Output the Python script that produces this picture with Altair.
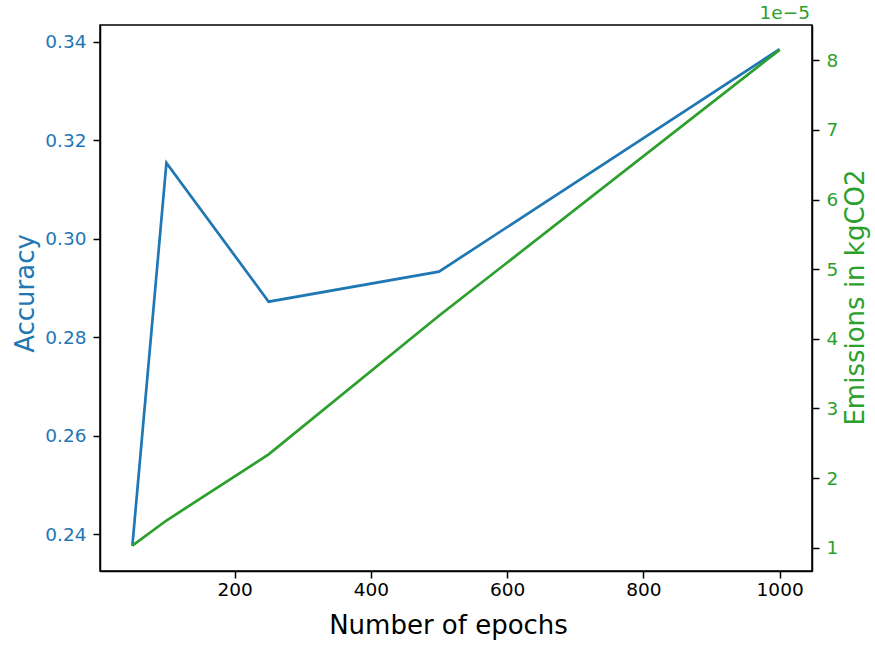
import altair as alt
import pandas as pd

# Training runs: epochs vs. accuracy and CO2 emissions
epochs = [50, 100, 250, 500, 1000]
accuracy = [0.2376, 0.3154, 0.2872, 0.2933, 0.3385]
emissions_kg = [1.03e-5, 1.39e-5, 2.34e-5, 4.33e-5, 8.15e-5]

x_ticks = [200, 400, 600, 800, 1000]
acc_ticks = [0.24, 0.26, 0.28, 0.30, 0.32, 0.34]
em_ticks = [1e-5, 2e-5, 3e-5, 4e-5, 5e-5, 6e-5, 7e-5, 8e-5]

df = pd.DataFrame({"epochs": epochs, "accuracy": accuracy, "emissions": emissions_kg})

BLUE = "#1f77b4"
GREEN = "#2ca02c"
FONT = "DejaVu Sans"

x_enc = alt.X(
    "epochs:Q",
    scale=alt.Scale(domain=[2.5, 1047.5], nice=False, zero=False),
    axis=alt.Axis(
        values=x_ticks, format="d", title="Number of epochs",
        titleX=348, titleY=62, titleBaseline="alphabetic", titleAlign="center",
        labelColor="black",
    ),
)

acc_line = alt.Chart(df).mark_line(color=BLUE, strokeWidth=2.7).encode(
    x=x_enc,
    y=alt.Y(
        "accuracy:Q",
        scale=alt.Scale(domain=[0.2325, 0.3434], nice=False, zero=False),
        axis=alt.Axis(
            orient="left", values=acc_ticks, format=".2f", title="Accuracy",
            labelColor=BLUE, titleColor=BLUE, labelPadding=7,
            titleAngle=270, titleX=-67, titleY=268,
            titleAlign="center", titleBaseline="alphabetic",
        ),
    ),
)

em_line = alt.Chart(df).mark_line(color=GREEN, strokeWidth=2.7).encode(
    x=x_enc,
    y=alt.Y(
        "emissions:Q",
        scale=alt.Scale(domain=[0.665e-5, 8.507e-5], nice=False, zero=False),
        axis=alt.Axis(
            orient="right", values=em_ticks, labelExpr="format(datum.value * 1e5, '.0f')",
            title="Emissions in kgCO2",
            labelColor=GREEN, titleColor=GREEN, labelPadding=7,
            titleAngle=270, titleX=51, titleY=272,
            titleAlign="center", titleBaseline="alphabetic",
        ),
    ),
)

# Scale multiplier shown above the right axis
offset_text = alt.Chart(pd.DataFrame({"t": ["1e\u22125"]})).mark_text(
    color=GREEN, font=FONT, fontSize=18.5, align="right", baseline="alphabetic",
).encode(
    text="t:N",
    x=alt.value(710),
    y=alt.value(-6),
)

chart = (
    alt.layer(acc_line, em_line, offset_text)
    .resolve_scale(y="independent")
    .properties(
        width=712,
        height=546,
        autosize=alt.AutoSizeParams(type="none"),
        padding={"left": 100, "top": 25, "right": 63, "bottom": 75},
        background="white",
    )
    .configure_view(stroke="black", strokeWidth=1.5)
    .configure_axis(
        grid=False,
        domainColor="black",
        domainWidth=1.5,
        tickColor="black",
        tickWidth=1.5,
        tickSize=7,
        labelFont=FONT,
        labelFontSize=18.5,
        titleFont=FONT,
        titleFontSize=26,
        titleFontWeight="normal",
    )
)

chart.save("out.html", embed_options={"renderer": "svg", "actions": False})
